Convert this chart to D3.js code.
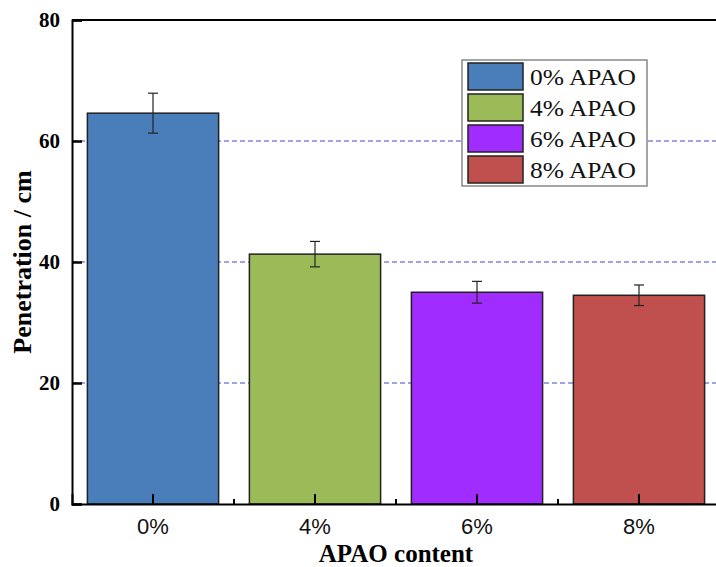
<!DOCTYPE html>
<html><head><meta charset="utf-8">
<script src="https://cdn.jsdelivr.net/npm/d3@7"></script>
<style>body{margin:0;background:#fff}svg{display:block}</style>
</head><body>
<script>
const categories = ["0%", "4%", "6%", "8%"];
const values = [64.6, 41.3, 35.0, 34.5];
const errors = [3.3, 2.1, 1.8, 1.7];
const legendLabels = ["0% APAO", "4% APAO", "6% APAO", "8% APAO"];
const colors = ["#4a7ebb", "#9bbb59", "#a02cff", "#c0504d"];
const yTicks = [0, 20, 40, 60, 80];
const gridValues = [20, 40, 60];

const W = 716, H = 567;
const m = {left: 72, right: 720, top: 20, bottom: 504};
const svg = d3.select("body").append("svg").attr("width", W).attr("height", H);

const x = d3.scaleBand().domain(categories).range([m.left, m.right]).paddingInner(0.19).paddingOuter(0.095);
const y = d3.scaleLinear().domain([0, 80]).range([m.bottom, m.top]);

// grid lines
svg.append("g").selectAll("line").data(gridValues).join("line")
  .attr("x1", m.left).attr("x2", m.right)
  .attr("y1", d => y(d)).attr("y2", d => y(d))
  .attr("stroke", "#4646d4").attr("stroke-width", 1.2).attr("stroke-dasharray", "5,3");

// bars
svg.append("g").selectAll("rect").data(categories).join("rect")
  .attr("x", d => x(d)).attr("width", x.bandwidth())
  .attr("y", (d, i) => y(values[i])).attr("height", (d, i) => y(0) - y(values[i]))
  .attr("fill", (d, i) => colors[i]).attr("stroke", "#222").attr("stroke-width", 1.5);

// error bars
const eb = svg.append("g").attr("stroke", "#222").attr("stroke-width", 1.2);
categories.forEach((c, i) => {
  const cx = x(c) + x.bandwidth() / 2;
  eb.append("line").attr("x1", cx).attr("x2", cx).attr("y1", y(values[i] + errors[i])).attr("y2", y(values[i] - errors[i]));
  eb.append("line").attr("x1", cx - 5).attr("x2", cx + 5).attr("y1", y(values[i] + errors[i])).attr("y2", y(values[i] + errors[i]));
  eb.append("line").attr("x1", cx - 5).attr("x2", cx + 5).attr("y1", y(values[i] - errors[i])).attr("y2", y(values[i] - errors[i]));
});

// frame
svg.append("line").attr("x1", m.left).attr("x2", m.right).attr("y1", m.top).attr("y2", m.top).attr("stroke", "#000").attr("stroke-width", 2);
svg.append("line").attr("x1", m.right).attr("x2", m.right).attr("y1", m.top).attr("y2", m.bottom).attr("stroke", "#000").attr("stroke-width", 2);

// y axis
const yAxis = svg.append("g").attr("transform", `translate(${m.left},0)`)
  .call(d3.axisLeft(y).tickValues(yTicks).tickSize(-10).tickPadding(12).tickFormat(d3.format("d")));
yAxis.select(".domain").attr("stroke", "#000").attr("stroke-width", 2);
yAxis.selectAll(".tick line").attr("stroke", "#000").attr("stroke-width", 2.5);
yAxis.selectAll(".tick text").attr("font-family", "Liberation Serif, serif").attr("font-weight", "bold")
  .attr("font-size", 21).attr("fill", "#000");

// x axis
const xAxis = svg.append("g").attr("transform", `translate(0,${m.bottom})`)
  .call(d3.axisBottom(x).tickSize(-10).tickPadding(14));
xAxis.select(".domain").attr("stroke", "#000").attr("stroke-width", 2);
xAxis.selectAll(".tick line").attr("stroke", "#000").attr("stroke-width", 2);
xAxis.selectAll(".tick text").attr("font-family", "Liberation Sans, Arial, sans-serif")
  .attr("font-size", 22).attr("fill", "#111");
// minor ticks between categories
const minorPos = categories.slice(1).map(c => x(c) - x.step() * x.paddingInner() / 2);
svg.append("g").selectAll("line").data(minorPos).join("line")
  .attr("x1", d => d).attr("x2", d => d).attr("y1", m.bottom).attr("y2", m.bottom - 5)
  .attr("stroke", "#000").attr("stroke-width", 2);

// axis titles
svg.append("text").attr("x", (m.left + m.right) / 2).attr("y", 562).attr("text-anchor", "middle")
  .attr("font-family", "Liberation Serif, serif").attr("font-weight", "bold").attr("font-size", 25).text("APAO content");
svg.append("text").attr("transform", `translate(31,${(m.top + m.bottom) / 2}) rotate(-90)`).attr("text-anchor", "middle")
  .attr("font-family", "Liberation Serif, serif").attr("font-weight", "bold").attr("font-size", 26).text("Penetration / cm");

// legend
const lg = svg.append("g");
lg.append("rect").attr("x", 462).attr("y", 60).attr("width", 185).attr("height", 126)
  .attr("fill", "#fff").attr("stroke", "#888").attr("stroke-width", 1.5);
legendLabels.forEach((t, i) => {
  const yy = 63 + i * 31;
  lg.append("rect").attr("x", 468).attr("y", yy).attr("width", 55).attr("height", 27)
    .attr("fill", colors[i]).attr("stroke", "#222").attr("stroke-width", 1.5);
  lg.append("text").attr("x", 530).attr("y", yy + 22).attr("font-family", "Liberation Serif, serif")
    .attr("font-size", 24).attr("textLength", 106).attr("lengthAdjust", "spacingAndGlyphs")
    .attr("fill", "#111").text(t);
});
</script>
</body></html>
